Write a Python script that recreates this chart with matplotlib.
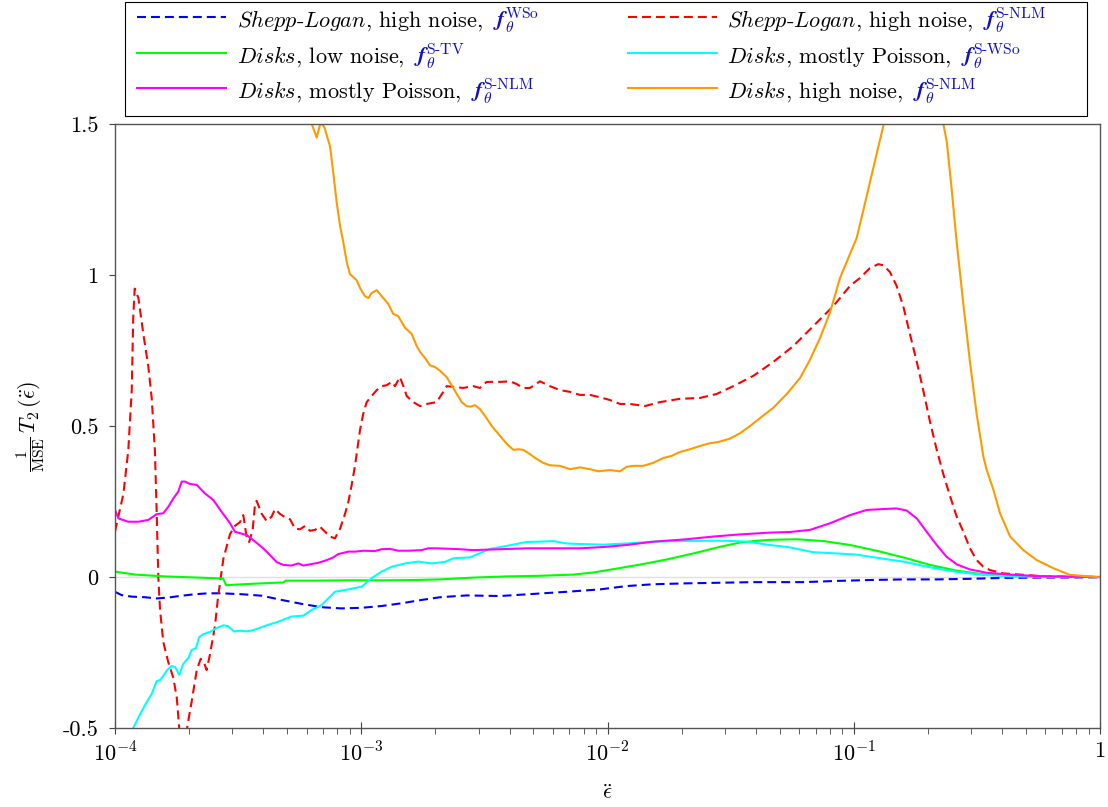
import numpy as np
import matplotlib
matplotlib.use("Agg")
import matplotlib.pyplot as plt
from matplotlib.lines import Line2D
from matplotlib.patches import Rectangle
from matplotlib.offsetbox import AnchoredOffsetbox, HPacker, TextArea
from matplotlib.ticker import NullFormatter

plt.rcParams['font.family'] = 'cmr10'
plt.rcParams['mathtext.fontset'] = 'cm'
plt.rcParams['axes.formatter.use_mathtext'] = True
plt.rcParams['axes.unicode_minus'] = False

# each row: [log10(eps), value]
sl_wso = np.array([
    [-4.000, -0.049], [-3.973, -0.060], [-3.932, -0.065], [-3.878, -0.067], [-3.831, -0.071],
    [-3.783, -0.068], [-3.729, -0.062], [-3.675, -0.057], [-3.621, -0.054], [-3.567, -0.054],
    [-3.486, -0.057], [-3.404, -0.062], [-3.323, -0.076], [-3.242, -0.089], [-3.161, -0.100],
    [-3.080, -0.104], [-2.998, -0.102], [-2.917, -0.096], [-2.836, -0.087], [-2.755, -0.076],
    [-2.680, -0.067], [-2.572, -0.061], [-2.436, -0.063], [-2.301, -0.056], [-2.166, -0.049],
    [-2.030, -0.041], [-1.922, -0.030], [-1.814, -0.024], [-1.678, -0.021], [-1.543, -0.019],
    [-1.408, -0.017], [-1.340, -0.017], [-1.205, -0.017], [-1.069, -0.013], [-0.934, -0.010],
    [-0.799, -0.008], [-0.663, -0.008], [-0.528, -0.006], [-0.392, -0.003], [-0.257, -0.002],
    [0.000, -0.001]])

sl_snlm = np.array([
    [-4.000, 0.150], [-3.966, 0.275], [-3.946, 0.420], [-3.932, 0.619], [-3.926, 0.858],
    [-3.920, 0.955], [-3.905, 0.924], [-3.885, 0.805], [-3.865, 0.699], [-3.851, 0.593],
    [-3.838, 0.420], [-3.831, 0.221], [-3.824, -0.003], [-3.817, -0.109], [-3.804, -0.215],
    [-3.784, -0.281], [-3.763, -0.334], [-3.749, -0.401], [-3.740, -0.493], [-3.724, -0.620],
    [-3.706, -0.493], [-3.689, -0.414], [-3.668, -0.308], [-3.652, -0.271], [-3.639, -0.282],
    [-3.628, -0.308], [-3.614, -0.255], [-3.594, -0.162], [-3.582, -0.070], [-3.570, 0.000],
    [-3.560, 0.060], [-3.545, 0.105], [-3.533, 0.142], [-3.513, 0.169], [-3.492, 0.182],
    [-3.479, 0.205], [-3.465, 0.129], [-3.455, 0.116], [-3.441, 0.156], [-3.431, 0.244],
    [-3.425, 0.252], [-3.404, 0.209], [-3.384, 0.185], [-3.364, 0.200], [-3.350, 0.225],
    [-3.330, 0.209], [-3.310, 0.198], [-3.289, 0.191], [-3.269, 0.160], [-3.249, 0.158],
    [-3.228, 0.169], [-3.208, 0.153], [-3.188, 0.156], [-3.168, 0.167], [-3.147, 0.150],
    [-3.127, 0.134], [-3.107, 0.128], [-3.086, 0.160], [-3.066, 0.209], [-3.052, 0.250],
    [-3.040, 0.300], [-3.025, 0.370], [-3.005, 0.487], [-2.992, 0.540], [-2.978, 0.579],
    [-2.958, 0.599], [-2.937, 0.619], [-2.917, 0.632], [-2.897, 0.635], [-2.876, 0.646],
    [-2.863, 0.632], [-2.843, 0.662], [-2.829, 0.632], [-2.815, 0.599], [-2.789, 0.579],
    [-2.761, 0.566], [-2.734, 0.573], [-2.694, 0.579], [-2.667, 0.613], [-2.653, 0.632],
    [-2.586, 0.626], [-2.545, 0.632], [-2.518, 0.626], [-2.491, 0.646], [-2.437, 0.646],
    [-2.396, 0.648], [-2.369, 0.639], [-2.342, 0.626], [-2.315, 0.626], [-2.274, 0.648],
    [-2.234, 0.632], [-2.193, 0.619], [-2.152, 0.613], [-2.112, 0.603], [-2.071, 0.603],
    [-2.030, 0.595], [-1.990, 0.586], [-1.949, 0.573], [-1.909, 0.573], [-1.848, 0.566],
    [-1.787, 0.579], [-1.706, 0.590], [-1.624, 0.593], [-1.557, 0.606], [-1.489, 0.632],
    [-1.408, 0.666], [-1.327, 0.712], [-1.245, 0.765], [-1.164, 0.831], [-1.083, 0.897],
    [-1.015, 0.964], [-0.975, 0.990], [-0.934, 1.023], [-0.900, 1.036], [-0.880, 1.032],
    [-0.853, 1.010], [-0.826, 0.964], [-0.799, 0.897], [-0.772, 0.805], [-0.744, 0.712],
    [-0.718, 0.619], [-0.690, 0.513], [-0.663, 0.421], [-0.636, 0.340], [-0.609, 0.268],
    [-0.582, 0.200], [-0.555, 0.150], [-0.528, 0.095], [-0.501, 0.056], [-0.474, 0.034],
    [-0.447, 0.023], [-0.393, 0.012], [-0.257, 0.004], [-0.122, 0.001], [0.000, 0.000]])

disks_low_stv = np.array([
    [-4.000, 0.018], [-3.919, 0.008], [-3.797, 0.002], [-3.662, -0.002], [-3.561, -0.005],
    [-3.549, -0.027], [-3.431, -0.022], [-3.316, -0.018], [-3.307, -0.012], [-3.188, -0.012],
    [-3.052, -0.011], [-2.917, -0.011], [-2.782, -0.010], [-2.680, -0.008], [-2.545, -0.002],
    [-2.409, 0.002], [-2.274, 0.004], [-2.139, 0.008], [-2.057, 0.015], [-1.976, 0.026],
    [-1.868, 0.041], [-1.760, 0.058], [-1.651, 0.078], [-1.543, 0.100], [-1.462, 0.114],
    [-1.394, 0.120], [-1.340, 0.123], [-1.232, 0.125], [-1.123, 0.119], [-1.015, 0.106],
    [-0.907, 0.087], [-0.799, 0.065], [-0.690, 0.040], [-0.582, 0.021], [-0.474, 0.009],
    [-0.365, 0.003], [-0.189, 0.001], [0.000, 0.000]])

disks_pois_swso = np.array([
    [-3.960, -0.600], [-3.926, -0.500], [-3.898, -0.454], [-3.871, -0.414], [-3.851, -0.387],
    [-3.831, -0.345], [-3.817, -0.341], [-3.804, -0.328], [-3.788, -0.308], [-3.770, -0.295],
    [-3.756, -0.298], [-3.739, -0.324], [-3.723, -0.288], [-3.702, -0.268], [-3.689, -0.242],
    [-3.671, -0.235], [-3.658, -0.199], [-3.641, -0.189], [-3.614, -0.182], [-3.587, -0.169],
    [-3.560, -0.160], [-3.540, -0.163], [-3.517, -0.180], [-3.492, -0.178], [-3.465, -0.180],
    [-3.438, -0.176], [-3.411, -0.168], [-3.391, -0.162], [-3.337, -0.148], [-3.283, -0.131],
    [-3.235, -0.128], [-3.201, -0.109], [-3.161, -0.093], [-3.134, -0.071], [-3.107, -0.049],
    [-3.052, -0.041], [-2.998, -0.032], [-2.958, -0.004], [-2.917, 0.018], [-2.876, 0.034],
    [-2.822, 0.045], [-2.768, 0.051], [-2.714, 0.045], [-2.660, 0.050], [-2.626, 0.062],
    [-2.558, 0.065], [-2.477, 0.093], [-2.409, 0.103], [-2.328, 0.116], [-2.274, 0.117],
    [-2.220, 0.119], [-2.166, 0.111], [-2.098, 0.109], [-2.017, 0.107], [-1.922, 0.111],
    [-1.814, 0.117], [-1.705, 0.119], [-1.597, 0.120], [-1.516, 0.120], [-1.435, 0.117],
    [-1.340, 0.106], [-1.259, 0.098], [-1.164, 0.082], [-1.069, 0.078], [-0.988, 0.074],
    [-0.893, 0.062], [-0.799, 0.051], [-0.690, 0.032], [-0.582, 0.017], [-0.474, 0.007],
    [-0.365, 0.002], [0.000, 0.000]])

disks_pois_snlm = np.array([
    [-4.000, 0.222], [-3.986, 0.194], [-3.946, 0.183], [-3.905, 0.183], [-3.865, 0.189],
    [-3.831, 0.208], [-3.804, 0.211], [-3.783, 0.233], [-3.763, 0.260], [-3.743, 0.283],
    [-3.729, 0.316], [-3.716, 0.316], [-3.695, 0.308], [-3.668, 0.305], [-3.635, 0.277],
    [-3.601, 0.255], [-3.567, 0.216], [-3.533, 0.178], [-3.513, 0.150], [-3.492, 0.145],
    [-3.465, 0.139], [-3.431, 0.117], [-3.398, 0.095], [-3.371, 0.073], [-3.343, 0.049],
    [-3.316, 0.040], [-3.283, 0.038], [-3.255, 0.045], [-3.235, 0.038], [-3.201, 0.043],
    [-3.174, 0.047], [-3.140, 0.056], [-3.113, 0.065], [-3.093, 0.076], [-3.052, 0.084],
    [-3.025, 0.084], [-2.992, 0.087], [-2.944, 0.086], [-2.917, 0.092], [-2.883, 0.093],
    [-2.849, 0.087], [-2.809, 0.087], [-2.755, 0.089], [-2.728, 0.095], [-2.694, 0.095],
    [-2.599, 0.092], [-2.545, 0.089], [-2.436, 0.092], [-2.328, 0.095], [-2.220, 0.095],
    [-2.111, 0.095], [-2.003, 0.100], [-1.922, 0.106], [-1.814, 0.117], [-1.678, 0.125],
    [-1.570, 0.134], [-1.462, 0.141], [-1.340, 0.147], [-1.259, 0.149], [-1.178, 0.156],
    [-1.096, 0.178], [-1.015, 0.205], [-0.947, 0.222], [-0.880, 0.225], [-0.826, 0.227],
    [-0.785, 0.220], [-0.744, 0.194], [-0.704, 0.150], [-0.663, 0.106], [-0.623, 0.067],
    [-0.582, 0.042], [-0.528, 0.025], [-0.460, 0.014], [-0.365, 0.008], [-0.257, 0.003],
    [-0.122, 0.001], [0.000, 0.000]])

disks_high_snlm = np.array([
    [-3.215, 1.560], [-3.201, 1.500], [-3.181, 1.455], [-3.165, 1.505], [-3.150, 1.490],
    [-3.127, 1.427], [-3.113, 1.334], [-3.100, 1.242], [-3.086, 1.162], [-3.073, 1.109],
    [-3.059, 1.043], [-3.046, 1.003], [-3.032, 0.993], [-3.019, 0.983], [-3.005, 0.957],
    [-2.985, 0.930], [-2.971, 0.924], [-2.958, 0.940], [-2.937, 0.950], [-2.917, 0.930],
    [-2.890, 0.904], [-2.870, 0.871], [-2.850, 0.864], [-2.822, 0.825], [-2.795, 0.805],
    [-2.775, 0.765], [-2.761, 0.745], [-2.741, 0.725], [-2.721, 0.701], [-2.700, 0.695],
    [-2.680, 0.683], [-2.653, 0.662], [-2.633, 0.635], [-2.612, 0.606], [-2.592, 0.579],
    [-2.572, 0.566], [-2.556, 0.564], [-2.538, 0.569], [-2.518, 0.556], [-2.497, 0.533],
    [-2.470, 0.500], [-2.443, 0.474], [-2.423, 0.454], [-2.403, 0.436], [-2.382, 0.421],
    [-2.362, 0.423], [-2.342, 0.421], [-2.315, 0.407], [-2.288, 0.391], [-2.261, 0.378],
    [-2.234, 0.370], [-2.193, 0.368], [-2.152, 0.357], [-2.112, 0.363], [-2.071, 0.357],
    [-2.037, 0.350], [-1.990, 0.354], [-1.949, 0.350], [-1.922, 0.365], [-1.895, 0.368],
    [-1.855, 0.368], [-1.814, 0.378], [-1.773, 0.394], [-1.739, 0.401], [-1.706, 0.414],
    [-1.665, 0.423], [-1.624, 0.434], [-1.584, 0.443], [-1.550, 0.447], [-1.503, 0.458],
    [-1.462, 0.476], [-1.421, 0.500], [-1.381, 0.526], [-1.327, 0.560], [-1.272, 0.606],
    [-1.218, 0.659], [-1.178, 0.719], [-1.137, 0.791], [-1.096, 0.877], [-1.056, 0.990],
    [-1.015, 1.070], [-0.988, 1.123], [-0.961, 1.215], [-0.934, 1.308], [-0.907, 1.401],
    [-0.880, 1.493], [-0.840, 1.720], [-0.780, 1.880], [-0.700, 1.850], [-0.650, 1.650],
    [-0.636, 1.500], [-0.622, 1.440], [-0.602, 1.281], [-0.582, 1.109], [-0.556, 0.911],
    [-0.528, 0.712], [-0.501, 0.540], [-0.474, 0.400], [-0.460, 0.354], [-0.433, 0.289],
    [-0.406, 0.211], [-0.365, 0.134], [-0.311, 0.089], [-0.257, 0.056], [-0.189, 0.029],
    [-0.122, 0.007], [0.000, -0.001]])

series = [sl_wso, sl_snlm, disks_low_stv, disks_pois_swso, disks_pois_snlm, disks_high_snlm]
colors = ['#0000ff', '#ff0000', '#00ff00', '#00ffff', '#ff00ff', '#ff9a00']
dashed = [True, True, False, False, False, False]

legend_names = [r'$\mathit{Shepp}$-$\mathit{Logan}$, high noise,',
                r'$\mathit{Shepp}$-$\mathit{Logan}$, high noise,',
                r'$\mathit{Disks}$, low noise,',
                r'$\mathit{Disks}$, mostly Poisson,',
                r'$\mathit{Disks}$, mostly Poisson,',
                r'$\mathit{Disks}$, high noise,']
legend_models = [r'$\mathbfit{f}_{\theta}^{\mathrm{WSo}}$',
                 r'$\mathbfit{f}_{\theta}^{\mathrm{S\text{-}NLM}}$',
                 r'$\mathbfit{f}_{\theta}^{\mathrm{S\text{-}TV}}$',
                 r'$\mathbfit{f}_{\theta}^{\mathrm{S\text{-}WSo}}$',
                 r'$\mathbfit{f}_{\theta}^{\mathrm{S\text{-}NLM}}$',
                 r'$\mathbfit{f}_{\theta}^{\mathrm{S\text{-}NLM}}$']

xticks = [1e-4, 1e-3, 1e-2, 1e-1, 1]
xtick_labels = [r'$10^{-4}$', r'$10^{-3}$', r'$10^{-2}$', r'$10^{-1}$', r'$1$']
yticks = [-0.5, 0, 0.5, 1, 1.5]
ytick_labels = ['-0.5', '0', '0.5', '1', '1.5']

W, H = 1108, 807
fs = 16

fig = plt.figure(figsize=(W / 100, H / 100), dpi=100)
ax = fig.add_axes([115 / W, 1 - 728 / H, 985 / W, 604 / H])

ax.axhline(0, color='#e0e0e0', lw=1.0, zorder=0.5)
for data, c, d in zip(series, colors, dashed):
    ls = (0, (4.3, 2.4)) if d else '-'
    ax.plot(10.0 ** data[:, 0], data[:, 1], color=c, lw=1.5, ls=ls)

ax.set_xscale('log')
ax.set_xlim(1e-4, 1)
ax.set_ylim(-0.5, 1.5)
ax.set_xticks(xticks, labels=xtick_labels)
ax.xaxis.set_minor_formatter(NullFormatter())
ax.set_yticks(yticks, labels=ytick_labels)
ax.tick_params(axis='x', which='major', direction='inout', length=8, width=0.8,
               color='#444444', labelsize=fs, pad=6)
ax.tick_params(axis='x', which='minor', direction='out', length=4, width=0.6, color='#444444')
ax.tick_params(axis='y', which='major', direction='out', length=4, width=0.8,
               color='#444444', labelsize=fs, pad=8)
for sp in ax.spines.values():
    sp.set_color('#555555')
    sp.set_linewidth(1.0)

ax.set_ylabel(r'$\frac{1}{\mathrm{MSE}}\,T_2\,(\ddot{\epsilon})$', fontsize=fs)
ax.yaxis.set_label_coords(-0.069, 0.5)
ax.set_xlabel(r'$\ddot{\epsilon}$', fontsize=fs)
ax.xaxis.set_label_coords(0.5, -0.092)


def fx(px):
    return px / W


def fy(py):
    return 1 - py / H


# legend frame and entries (two columns, filled row by row)
fig.add_artist(Rectangle((fx(125), fy(116)), fx(1087) - fx(125), fy(2) - fy(116),
                         transform=fig.transFigure, fill=False, ec='black', lw=0.8))
handle_x = [137, 628]
text_x = [237, 727]
row_y = [18, 54, 89]
for i in range(6):
    col, row = i % 2, i // 2
    y = row_y[row]
    ls = (0, (4.3, 2.4)) if dashed[i] else '-'
    fig.add_artist(Line2D([fx(handle_x[col]), fx(handle_x[col] + 89)], [fy(y - 1), fy(y - 1)],
                          transform=fig.transFigure, color=colors[i], lw=1.5, ls=ls))
    pk = HPacker(children=[TextArea(legend_names[i], textprops=dict(fontsize=fs, color='black')),
                           TextArea(legend_models[i], textprops=dict(fontsize=fs, color='#1010c0'))],
                 align='baseline', pad=0, sep=7)
    ab = AnchoredOffsetbox(loc='center left', child=pk, pad=0, borderpad=0, frameon=False,
                           bbox_to_anchor=(fx(text_x[col]), fy(y + 2)),
                           bbox_transform=fig.transFigure)
    fig.add_artist(ab)

fig.savefig('out.png', dpi=100)
